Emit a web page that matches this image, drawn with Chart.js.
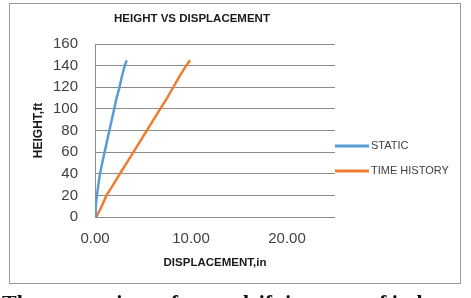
<!DOCTYPE html>
<html>
<head>
<meta charset="utf-8">
<script src="https://cdn.jsdelivr.net/npm/chart.js@4.4.1/dist/chart.umd.min.js"></script>
<style>
  html, body { margin: 0; padding: 0; background: #fff; }
  body { width: 471px; height: 298px; position: relative; overflow: hidden; }
  #frame { position: absolute; left: 9px; top: 3px; width: 452px; height: 281px; border: 1px solid #9a9a9a; box-sizing: border-box; }
  #wrap { position: absolute; left: 0; top: 0; width: 471px; height: 298px; }
  #cap { position: absolute; left: 2px; top: 292px; font: bold 22px 'Liberation Serif', serif; line-height: 22px; white-space: nowrap; color: #111; }
</style>
</head>
<body>
<div id="frame"></div>
<div id="wrap"><canvas id="ch"></canvas></div>
<div id="cap">The comparison of story drift in terms of ind</div>
<script>
/* Height vs displacement — static vs time history */

const heights       = [0, 10, 20, 30, 40, 50, 60, 70, 80, 90, 100, 110, 120, 130, 140, 145];
const staticDisp    = [0, 0.08, 0.2, 0.35, 0.52, 0.75, 1.0, 1.25, 1.5, 1.75, 2.0, 2.25, 2.55, 2.8, 3.1, 3.3];
const timeHistDisp  = [0.15, 0.7, 1.2, 1.9, 2.6, 3.3, 4.0, 4.7, 5.4, 6.1, 6.8, 7.5, 8.15, 8.8, 9.5, 9.9];
const seriesNames   = ['STATIC', 'TIME HISTORY'];
const xTickValues   = [0, 10, 20];
const xMax = 25, yMax = 160, yStep = 20;

const FONT = "'Liberation Sans', Arial, sans-serif";
const GRID = '#8c8c8c';

const pts = xs => xs.map((x, i) => ({ x, y: heights[i] }));

// chart title, drawn over the plot
const titlePlug = {
  id: 'ttl',
  afterDraw(ch) {
    const c = ch.ctx;
    c.save();
    c.font = 'bold 11.5px ' + FONT;
    c.fillStyle = '#1a1a1a';
    c.textAlign = 'center';
    c.textBaseline = 'middle';
    c.fillText('HEIGHT VS DISPLACEMENT', 192, 19);
    c.restore();
  }
};

// legend at the right, line sample + label
const legPlug = {
  id: 'leg',
  afterDraw(ch) {
    const c = ch.ctx, r = ch.chartArea.right;
    c.save();
    c.font = '11px ' + FONT;
    c.textBaseline = 'middle';
    ch.data.datasets.forEach((ds, i) => {
      const y = 146 + i * 25;
      c.strokeStyle = ds.borderColor;
      c.lineWidth = 3;
      c.beginPath(); c.moveTo(r, y); c.lineTo(r + 34, y); c.stroke();
      c.fillStyle = '#404040';
      c.fillText(ds.label, r + 36, y);
    });
    c.restore();
  }
};

new Chart(document.getElementById('ch'), {
  type: 'line',
  data: {
    datasets: [
      { label: seriesNames[0], data: pts(staticDisp), borderColor: '#5B9BD5', borderWidth: 2.5, pointRadius: 0, tension: 0, fill: false },
      { label: seriesNames[1], data: pts(timeHistDisp), borderColor: '#ED7D31', borderWidth: 2.5, pointRadius: 0, tension: 0, fill: false }
    ]
  },
  options: {
    responsive: true,
    maintainAspectRatio: false,
    animation: false,
    layout: { padding: { top: 44, left: 0, right: 136, bottom: 21 } },
    plugins: { legend: { display: false }, tooltip: { enabled: false } },
    scales: {
      x: {
        type: 'linear', min: 0, max: xMax,
        afterBuildTicks: s => { s.ticks = xTickValues.map(v => ({ value: v })); },
        afterFit: s => { s.height = 60; },
        grid: { display: false, drawTicks: false },
        border: { display: false },
        ticks: { color: '#404040', font: { family: FONT, size: 15 }, padding: 13, maxRotation: 0, callback: v => Number(v).toFixed(2) },
        title: { display: true, text: 'DISPLACEMENT,in', color: '#1a1a1a', font: { family: FONT, size: 11.5, weight: 'bold' }, padding: { top: 0, bottom: 7 } }
      },
      y: {
        min: 0, max: yMax,
        afterFit: s => { s.width = 95; },
        grid: { color: GRID, lineWidth: 1, drawTicks: false },
        border: { display: true, color: GRID, width: 1 },
        ticks: { stepSize: yStep, color: '#404040', font: { family: FONT, size: 15 }, padding: 17 },
        title: { display: true, text: 'HEIGHT,ft', color: '#1a1a1a', font: { family: FONT, size: 12, weight: 'bold' }, padding: { top: 31, bottom: 0 } }
      }
    }
  },
  plugins: [titlePlug, legPlug]
});
</script>
</body>
</html>
